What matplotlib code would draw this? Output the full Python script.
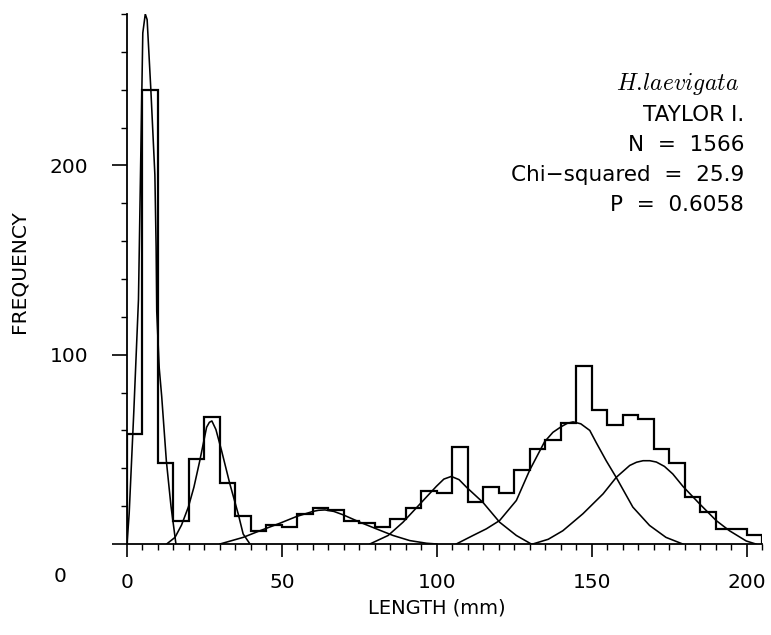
import numpy as np
import matplotlib
matplotlib.use("Agg")
import matplotlib.pyplot as plt
from matplotlib.ticker import MultipleLocator

# ---------------- data ----------------
bin_width = 5
bin_edges = np.arange(0, 205 + bin_width, bin_width)
counts = [58, 240, 43, 12, 45, 67, 32, 15, 7, 10,
          9, 16, 19, 18, 12, 11, 9, 13, 19, 28,
          27, 51, 22, 30, 27, 39, 50, 55, 64, 94,
          71, 63, 68, 66, 50, 43, 25, 17, 8, 8, 5]

comp1_x = [0, 0.7, 2.2, 3.7, 4.4, 5.1, 5.9, 6.5, 7.7, 9.0, 9.4, 9.6, 10.4, 11.2, 12.7, 14.2, 15.8]
comp1_y = [0, 16, 70, 129, 200, 270, 280, 277, 240, 195, 157, 123, 93, 78, 44, 20, 0]

comp2_x = [12.8, 15.5, 17.6, 19.8, 21.6, 23.5, 25.7, 26.6, 27.4, 28.7, 30.5, 33.2, 35.9, 37.5, 39.7]
comp2_y = [0, 3.5, 10, 19.5, 30, 44, 61.7, 64.3, 65, 60.5, 49.5, 31.8, 15.9, 5.3, 0]

comp3_x = [30, 37.5, 42.9, 49.4, 54.7, 60, 61.8, 63.9, 66.8, 69.8, 75.2, 80.5, 85.9, 91.3, 96.7, 100]
comp3_y = [0, 3.5, 7, 11, 14.5, 17.2, 17.8, 18, 17.2, 15.4, 11.5, 8, 4.5, 1.8, 0.4, 0]

comp4_x = [78.4, 84.3, 89.1, 94.5, 99.9, 102.3, 104.7, 107.2, 109.6, 114.9, 120.3, 125.7, 130.5]
comp4_y = [0, 4.5, 11.5, 21, 30.5, 34.3, 35.7, 34, 30, 22, 11.5, 4.5, 0]

comp5_x = [106.3, 111.7, 116, 120.3, 125.7, 130, 134.8, 137.5, 140.2, 142.2, 144, 146.5,
           149.4, 151.5, 154.7, 158, 163.3, 168.7, 174, 179.4]
comp5_y = [0, 4.5, 8, 12.4, 23, 39, 54, 59, 62, 63.8, 64.5, 63.5,
           60, 53.5, 44, 35, 19.5, 9.8, 3.5, 0]

comp6_x = [131, 136, 140.7, 147.2, 153.7, 158, 162.3, 164.5, 166.6, 168.8, 170.9, 173.5,
           176.2, 179.5, 184.8, 190.2, 194.5, 199.9, 203]
comp6_y = [0, 2.5, 7, 16, 26.5, 35.3, 41.5, 43.2, 44, 44, 43.3, 41,
           37, 30.4, 21.3, 12.4, 7, 1.6, 0]

components = [(comp1_x, comp1_y), (comp2_x, comp2_y), (comp3_x, comp3_y),
              (comp4_x, comp4_y), (comp5_x, comp5_y), (comp6_x, comp6_y)]

x_ticks = [0, 50, 100, 150, 200]
y_ticks = [100, 200]

species = r"H.\!laevigata"
info_lines = ["TAYLOR I.", "N  =  1566", "Chi\u2212squared  =  25.9", "P  =  0.6058"]

# ---------------- figure ----------------
W, H = 771, 635
plt.rcParams['font.family'] = ['DejaVu Sans']
plt.rcParams['mathtext.fontset'] = 'cm'
fig = plt.figure(figsize=(W / 100, H / 100), dpi=100)
ax = fig.add_axes([127 / W, (H - 544) / H, 635 / W, 530 / H])

ax.stairs(counts, bin_edges, baseline=0, fill=False, color='black', linewidth=1.6)
for cx, cy in components:
    ax.plot(cx, cy, color='black', linewidth=1.15)

ax.set_xlim(0, 205)
ax.set_ylim(0, 280)
for s in ['top', 'right']:
    ax.spines[s].set_visible(False)
for s in ['left', 'bottom']:
    ax.spines[s].set_linewidth(1.3)

ax.set_xticks(x_ticks)
ax.set_yticks([0] + y_ticks)
ax.set_yticklabels([""] + [str(v) for v in y_ticks])
ax.xaxis.set_minor_locator(MultipleLocator(5))
ax.yaxis.set_minor_locator(MultipleLocator(20))
ax.tick_params(axis='x', which='major', direction='out', length=9, width=1.2,
               labelsize=14.5, pad=12, colors='black')
ax.tick_params(axis='y', which='major', direction='out', length=11, width=1.2,
               labelsize=14.5, pad=17, colors='black')
ax.tick_params(which='minor', direction='out', length=4, width=1.0)

# origin label of the frequency axis, set low and to the left as in the original
fig.text(60 / W, 1 - 576 / H, "0", ha='center', va='center', fontsize=14.5)

fig.text(19 / W, 1 - 272 / H, "FREQUENCY", rotation=90, ha='center', va='center', fontsize=14.5)
fig.text(437 / W, 1 - 608 / H, "LENGTH (mm)", ha='center', va='center', fontsize=14)

fig.text(739 / W, 1 - 84 / H, "$" + species + "$", ha='right', va='center', fontsize=17)
ys = [115, 145, 175, 205]
for t, y in zip(info_lines, ys):
    fig.text(744 / W, 1 - y / H, t, ha='right', va='center', fontsize=15.5)

fig.savefig("out.png", dpi=100)
